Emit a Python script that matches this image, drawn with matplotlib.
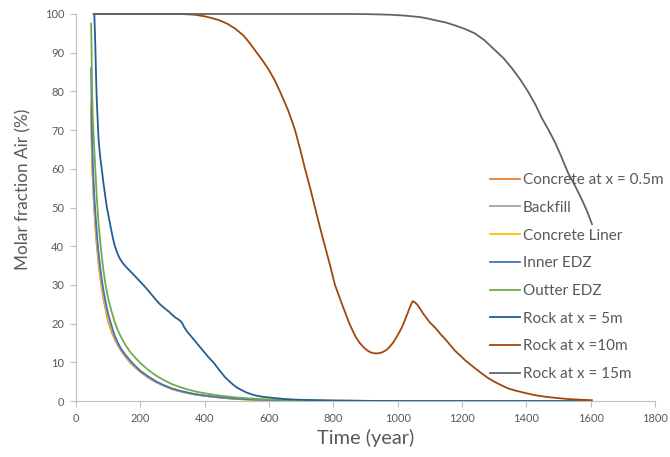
import matplotlib
matplotlib.use('Agg')
import matplotlib.pyplot as plt

''' DATA '''

labels = ['Concrete at x = 0.5m', 'Backfill', 'Concrete Liner', 'Inner EDZ',
          'Outter EDZ', 'Rock at x = 5m', 'Rock at x =10m', 'Rock at x = 15m']
colors = ['#ED7D31', '#A5A5A5', '#FFC000', '#4472C4',
          '#70AD47', '#255E91', '#9E480E', '#636363']

# near-field curves (years, %)
t_near = [47, 48.5, 50, 52.5, 55, 57.5, 60, 62.5, 65, 70, 75, 80, 85, 90, 95, 100, 110, 120, 130, 140,
          155, 170, 185, 200, 225, 250, 275, 300, 325, 350, 375, 400, 450, 500, 550, 600, 700, 800, 1000, 1600]
concrete = [75, 68, 62, 56.5, 52, 48.3, 45, 42.3, 40, 35.5, 32, 29, 26.6, 24.5, 22.4, 20.5, 18, 16, 14.4, 13,
            11.3, 9.8, 8.6, 7.5, 6.0, 4.8, 3.85, 3.0, 2.45, 2.0, 1.6, 1.3, 0.85, 0.5, 0.33, 0.2, 0.1, 0.05, 0, 0]
backfill = [76, 69, 63, 57.5, 53, 49.2, 46, 43.2, 40.8, 36.2, 32.6, 29.6, 27.1, 25, 22.9, 21, 18.4, 16.3, 14.7, 13.2,
            11.5, 10, 8.7, 7.6, 6.1, 4.9, 3.9, 3.05, 2.5, 2.05, 1.65, 1.35, 0.88, 0.52, 0.34, 0.21, 0.1, 0.05, 0, 0]
liner = [77, 70, 64, 58.5, 54, 50.2, 47, 44.1, 41.6, 37, 33.3, 30.2, 27.6, 25.5, 23.3, 21.4, 18.7, 16.6, 14.9, 13.4,
         11.7, 10.1, 8.8, 7.7, 6.2, 4.95, 3.95, 3.1, 2.55, 2.1, 1.7, 1.4, 0.9, 0.55, 0.35, 0.22, 0.11, 0.05, 0, 0]
inner_edz = [86, 76, 68, 61, 56, 52, 49, 46, 43, 38.5, 34.8, 31.5, 28.8, 26.5, 24.4, 22.5, 19.6, 17, 15.1, 13.5,
             11.8, 10.3, 9, 7.8, 6.3, 5.0, 4.0, 3.2, 2.6, 2.1, 1.7, 1.4, 0.95, 0.6, 0.4, 0.25, 0.12, 0.05, 0, 0]
outter_edz = [97.5, 90, 80, 73, 68, 64, 60, 56, 52, 46, 41.5, 37.5, 34, 31, 28.6, 26.5, 23.3, 20.5, 18.3, 16.5,
              14.3, 12.5, 11.1, 9.8, 8.0, 6.5, 5.3, 4.3, 3.55, 2.9, 2.4, 2.0, 1.35, 0.9, 0.6, 0.4, 0.2, 0.08, 0, 0]

t_rock5 = [57, 58.5, 60, 61.5, 63, 64.5, 66, 68, 70, 73, 76, 80, 85, 90, 96, 103, 110, 115, 121, 128,
           135, 143, 152, 163, 175, 192, 209, 222, 235, 248, 261, 275, 290, 300, 310, 320, 329, 337, 345, 352,
           360, 367, 375, 387, 400, 413, 427, 438, 450, 463, 478, 489, 500, 515, 530, 545, 560, 580, 600, 625,
           650, 675, 700, 750, 800, 900, 1000, 1600]
rock5 = [100, 96, 92, 87, 82, 78, 75, 71.5, 68, 65, 62.5, 60, 56.5, 53.5, 50, 47, 44, 42, 40, 38.3,
         37, 35.9, 35, 34, 33, 31.5, 30, 28.8, 27.5, 26.2, 25, 24, 23, 22.2, 21.5, 21, 20.3, 19, 18, 17.3,
         16.5, 15.8, 15, 13.8, 12.5, 11.2, 10, 8.8, 7.5, 6.2, 5, 4.2, 3.5, 2.8, 2.2, 1.75, 1.4, 1.1, 0.9, 0.7,
         0.5, 0.38, 0.3, 0.18, 0.1, 0.03, 0, 0]

t_rock10 = [55, 300, 340, 370, 400, 420, 445, 470, 495, 520, 540, 562, 580, 600, 617, 634, 647, 660, 681, 697,
            712, 728, 743, 758, 774, 790, 805, 827, 850, 860, 870, 882, 895, 905, 915, 925, 935, 945, 955, 965,
            975, 985, 995, 1004, 1013, 1022, 1030, 1036, 1042, 1047, 1053, 1060, 1070, 1080, 1100, 1116, 1133,
            1150, 1165, 1178, 1195, 1210, 1225, 1240, 1260, 1280, 1300, 1324, 1345, 1370, 1400, 1427, 1455,
            1480, 1505, 1530, 1565, 1604]
rock10 = [100, 100, 99.95, 99.8, 99.4, 99, 98.4, 97.5, 96.2, 94.5, 92.5, 90, 88, 85.5, 83, 80, 77.5, 75, 70, 65,
          60, 55, 50, 45, 40, 35, 30, 25, 20, 18.2, 16.5, 15, 13.8, 13.1, 12.6, 12.35, 12.3, 12.4, 12.7, 13.2,
          14, 15, 16.3, 17.6, 19, 20.8, 22.5, 23.8, 25, 25.8, 25.5, 25, 23.8, 22.5, 20.3, 19, 17.3,
          15.8, 14.3, 13, 11.7, 10.5, 9.5, 8.5, 7.2, 6, 5, 4, 3.2, 2.6, 2, 1.5, 1.15,
          0.9, 0.7, 0.5, 0.35, 0.2]

t_rock15 = [55, 850, 900, 940, 980, 1020, 1045, 1070, 1095, 1116, 1150, 1180, 1210, 1240, 1270, 1302, 1330,
            1355, 1380, 1405, 1428, 1449, 1470, 1490, 1510, 1530, 1552, 1573, 1590, 1604]
rock15 = [100, 100, 99.97, 99.9, 99.8, 99.6, 99.4, 99.2, 98.8, 98.4, 97.8, 97, 96.1, 95, 93.2, 90.7, 88.5,
          86, 83.2, 80, 76.6, 73, 69.9, 66.7, 62.9, 58.9, 55.5, 52, 48.8, 45.7]

series = [(t_near, concrete), (t_near, backfill), (t_near, liner), (t_near, inner_edz),
          (t_near, outter_edz), (t_rock5, rock5), (t_rock10, rock10), (t_rock15, rock15)]


''' PLOTTING '''

plt.rcParams['font.family'] = ['Lato', 'DejaVu Sans']
txt = '#595959'
axc = '#BFBFBF'

fig = plt.figure(figsize=(6.7, 4.57), dpi=100)
ax = fig.add_axes([76/670, 1 - 401/457, (655-76)/670, (401-14)/457])

for (t, v), lab, c in zip(series, labels, colors):
    ax.plot(t, v, color=c, lw=1.3, label=lab, clip_on=False, solid_joinstyle='round')

ax.set_xlim(0, 1800)
ax.set_ylim(0, 100)
ax.set_xticks(range(0, 1801, 200))
ax.set_yticks(range(0, 101, 10))
for s in ['top', 'right']:
    ax.spines[s].set_visible(False)
for s in ['left', 'bottom']:
    ax.spines[s].set_color(axc)
ax.tick_params(colors=axc, labelcolor=txt, labelsize=8, length=4.5, pad=4, direction='out')
ax.set_xlabel('Time (year)', color=txt, fontsize=14.4, labelpad=4)
ax.set_ylabel('Molar fraction Air (%)', color=txt, fontsize=12.3)
ax.yaxis.set_label_coords((31 - 76) / 579, (401 - 189) / 387)

leg = ax.legend(loc='upper left', bbox_to_anchor=(490/670, 1 - 173/457), bbox_transform=fig.transFigure,
                frameon=False, fontsize=11, handlelength=1.96, handletextpad=0.2,
                labelspacing=0.9, borderpad=0, borderaxespad=0)
for tx in leg.get_texts():
    tx.set_color(txt)

plt.savefig('out.png', dpi=100)
